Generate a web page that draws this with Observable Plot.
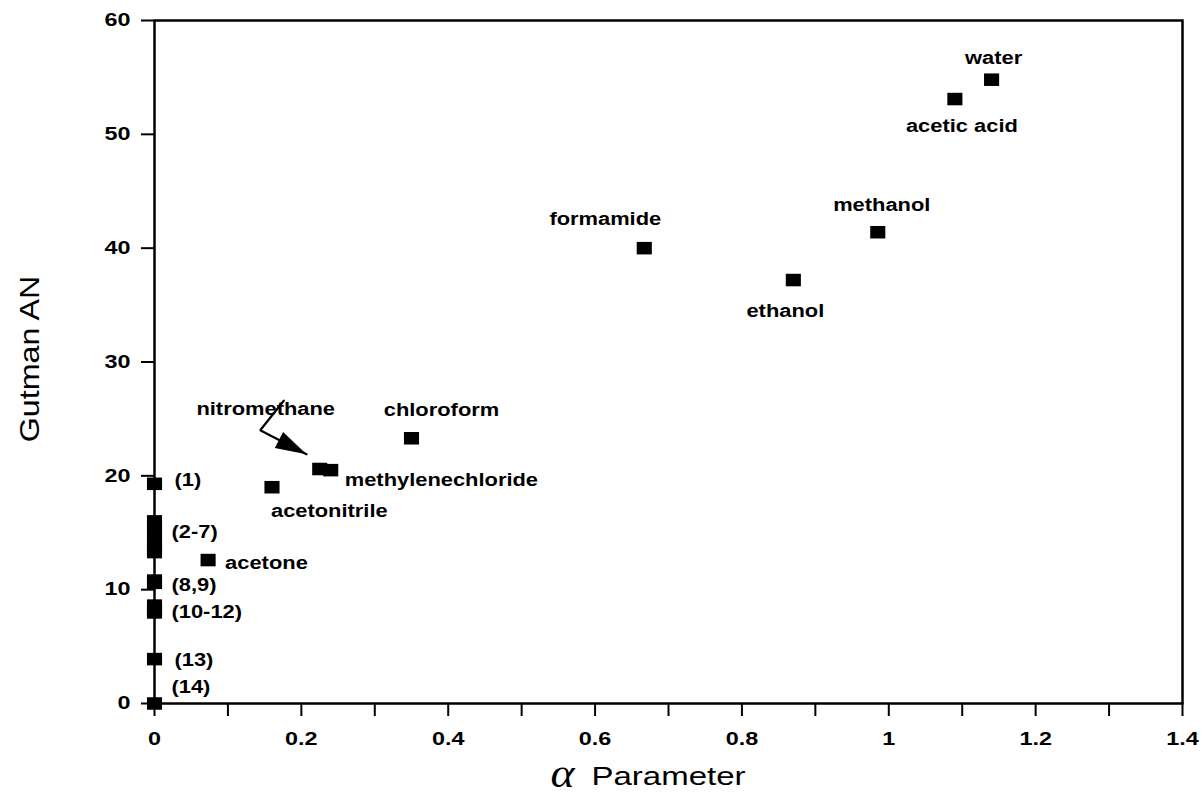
<!DOCTYPE html>
<html>
<head>
<meta charset="utf-8">
<script src="https://cdn.jsdelivr.net/npm/d3@7"></script>
<script src="https://cdn.jsdelivr.net/npm/@observablehq/plot@0.6"></script>
<style>
  html, body { margin: 0; padding: 0; background: #fff; }
  #chart svg { display: block; }
  #chart g[aria-label^="x-axis"] text, #chart g[aria-label^="y-axis"] text {
    font-family: "Liberation Sans", Arial, sans-serif; font-weight: bold; font-size: 18px; fill: #000;
  }
  #chart g[aria-label^="x-axis"] path, #chart g[aria-label^="x-axis"] line,
  #chart g[aria-label^="y-axis"] path, #chart g[aria-label^="y-axis"] line {
    stroke: #000; stroke-width: 2px;
  }
</style>
</head>
<body>
<div id="chart"></div>
<script>
// ---- data: named solvents ----
const solventNames = ["water", "acetic acid", "methanol", "ethanol", "formamide", "chloroform",
                      "methylenechloride", "nitromethane", "acetonitrile", "acetone"];
const solventAlpha = [1.14, 1.09, 0.985, 0.87, 0.667, 0.35, 0.24, 0.225, 0.16, 0.073];
const solventAN    = [54.8, 53.1, 41.4, 37.2, 40.0, 23.3, 20.5, 20.6, 19.0, 12.6];

// ---- data: numbered solvents (alpha = 0) ----
const numberedGroup = ["(1)", "(2-7)", "(2-7)", "(2-7)", "(2-7)", "(2-7)", "(2-7)",
                       "(8,9)", "(8,9)", "(10-12)", "(10-12)", "(10-12)", "(13)", "(14)"];
const numberedAlpha = [0, 0, 0, 0, 0, 0, 0, 0, 0, 0, 0, 0, 0, 0];
const numberedAN    = [19.3, 16.0, 15.5, 14.8, 14.2, 13.6, 13.3, 10.8, 10.6, 8.6, 8.2, 8.0, 3.9, 0];
const groupNames = ["(1)", "(2-7)", "(8,9)", "(10-12)", "(13)", "(14)"];

// ---- annotation arrow (nitromethane), data units ----
const arrowAlpha = [0.176, 0.144, 0.207];
const arrowAN    = [26.6, 24.0, 21.9];

// ---- ticks ----
const xTickValues = [0, 0.1, 0.2, 0.3, 0.4, 0.5, 0.6, 0.7, 0.8, 0.9, 1.0, 1.1, 1.2, 1.3, 1.4];
const xTickLabels = ["0", "", "0.2", "", "0.4", "", "0.6", "", "0.8", "", "1", "", "1.2", "", "1.4"];
const yTickValues = [0, 10, 20, 30, 40, 50, 60];
const yTickLabels = ["0", "10", "20", "30", "40", "50", "60"];

// ---- layout ----
const W = 1204, H = 802, ML = 154, MR = 22, MT = 20, MB = 99;
const labelFont = {fontFamily: "Liberation Sans, Arial, sans-serif", fontWeight: "bold", fontSize: 17.5, fill: "black"};

const labelLayout = {
  "water":             {anchor: "middle", dx: 2,   dy: -21},
  "acetic acid":       {anchor: "middle", dx: 7,   dy: 27},
  "methanol":          {anchor: "middle", dx: 4,   dy: -27},
  "ethanol":           {anchor: "middle", dx: -8,  dy: 31},
  "formamide":         {anchor: "middle", dx: -39, dy: -29},
  "chloroform":        {anchor: "middle", dx: 30,  dy: -28},
  "methylenechloride": {anchor: "start",  dx: 14,  dy: 10},
  "nitromethane":      {anchor: "middle", dx: -54, dy: -60},
  "acetonitrile":      {anchor: "start",  dx: -1,  dy: 24},
  "acetone":           {anchor: "start",  dx: 17,  dy: 3}
};
const groupLayout = {
  "(1)":     {dx: 20, dy: -3},
  "(2-7)":   {dx: 17, dy: -5},
  "(8,9)":   {dx: 17, dy: 4},
  "(10-12)": {dx: 17, dy: 3},
  "(13)":    {dx: 20, dy: 1},
  "(14)":    {dx: 17, dy: -16}
};

const solvents = solventNames.map((name, i) => ({name, alpha: solventAlpha[i], an: solventAN[i]}));
const numbered = numberedGroup.map((g, i) => ({group: g, alpha: numberedAlpha[i], an: numberedAN[i]}));
const groups = groupNames.map(g => ({
  name: g, alpha: 0, an: d3.mean(numbered.filter(d => d.group === g), d => d.an)
}));
const arrowPts = arrowAlpha.map((a, i) => ({alpha: a, an: arrowAN[i]}));

// square marker, slightly wider than tall like the reference
const squareSymbol = {
  draw(ctx, size) {
    const s = Math.sqrt(size), w = s * 0.56, h = s * 0.465;
    ctx.moveTo(-w, -h); ctx.lineTo(w, -h); ctx.lineTo(w, h); ctx.lineTo(-w, h); ctx.closePath();
  }
};

// arrow head direction from the last arrow segment (pixel space)
const px = d3.scaleLinear().domain([0, 1.4]).range([ML, W - MR]);
const py = d3.scaleLinear().domain([0, 60]).range([H - MB, MT]);
const n = arrowPts.length;
const theta = Math.atan2(py(arrowPts[n-1].an) - py(arrowPts[n-2].an), px(arrowPts[n-1].alpha) - px(arrowPts[n-2].alpha));
const headSymbol = {
  draw(ctx) {
    const L = 31, hw = 9, c = Math.cos(theta), s = Math.sin(theta);
    const bx = -L * c, by = -L * s;
    ctx.moveTo(0, 0);
    ctx.lineTo(bx - s * hw, by + c * hw);
    ctx.lineTo(bx + s * hw, by - c * hw);
    ctx.closePath();
  }
};

const chart = Plot.plot({
  width: W, height: H,
  marginLeft: ML, marginRight: MR, marginTop: MT, marginBottom: MB,
  style: {background: "#fff", color: "#000", fontFamily: "Liberation Sans, Arial, sans-serif", fontSize: "16px", overflow: "visible"},
  x: {domain: [0, 1.4], ticks: xTickValues, tickFormat: d => xTickLabels[Math.round(d * 10)], tickSize: 13, tickPadding: 16, label: null},
  y: {domain: [0, 60], ticks: yTickValues, tickFormat: d => yTickLabels[Math.round(d / 10)], tickSize: 13, tickPadding: 11, label: null},
  marks: [
    Plot.frame({stroke: "black", strokeWidth: 2.5}),
    Plot.line(arrowPts, {x: "alpha", y: "an", stroke: "black", strokeWidth: 2.2, strokeLinejoin: "miter"}),
    Plot.dot([arrowPts[n - 1]], {x: "alpha", y: "an", symbol: headSymbol, fill: "black", stroke: "none", r: 5}),
    Plot.dot(numbered, {x: "alpha", y: "an", symbol: squareSymbol, r: 7.6, fill: "black", stroke: "none"}),
    Plot.dot(solvents, {x: "alpha", y: "an", symbol: squareSymbol, r: 7.6, fill: "black", stroke: "none"}),
    ...solvents.map(d => Plot.text([d], {
      x: "alpha", y: "an", text: "name",
      textAnchor: labelLayout[d.name].anchor, dx: labelLayout[d.name].dx, dy: labelLayout[d.name].dy,
      ...labelFont, ariaDescription: "datalabel"
    })),
    ...groups.map(d => Plot.text([d], {
      x: "alpha", y: "an", text: "name", textAnchor: "start",
      dx: groupLayout[d.name].dx, dy: groupLayout[d.name].dy,
      ...labelFont, ariaDescription: "datalabel"
    })),
    Plot.text(["Gutman AN"], {frameAnchor: "left", text: d => d, rotate: -90, dx: -124, dy: -3,
      textAnchor: "middle", lineAnchor: "middle",
      fontFamily: "Liberation Sans, Arial, sans-serif", fontSize: 28, fill: "black", ariaDescription: "ylabel"}),
    Plot.text(["Parameter"], {frameAnchor: "bottom", text: d => d, dy: 73,
      textAnchor: "middle", lineAnchor: "middle",
      fontFamily: "Liberation Sans, Arial, sans-serif", fontSize: 25, fill: "black", ariaDescription: "xlabel"}),
    Plot.text(["α"], {frameAnchor: "bottom", text: d => d, dx: -106, dy: 71,
      textAnchor: "middle", lineAnchor: "middle",
      fontFamily: "Liberation Serif, DejaVu Serif, serif", fontStyle: "italic", fontSize: 40, fill: "black", ariaDescription: "alpha"})
  ]
});

document.getElementById("chart").append(chart);

// widen glyphs like the (horizontally stretched) reference typography
function stretch(selector, k) {
  chart.querySelectorAll(selector).forEach(t => {
    const L = t.getComputedTextLength();
    if (L > 0) {
      t.setAttribute("textLength", (L * k).toFixed(1));
      t.setAttribute("lengthAdjust", "spacingAndGlyphs");
    }
  });
}
stretch('g[aria-description="datalabel"] text', 1.25);
stretch('g[aria-label^="x-axis"] text, g[aria-label^="y-axis"] text', 1.3);
stretch('g[aria-description="xlabel"] text', 1.32);
stretch('g[aria-description="ylabel"] text', 1.15);
stretch('g[aria-description="alpha"] text', 1.15);
</script>
</body>
</html>
